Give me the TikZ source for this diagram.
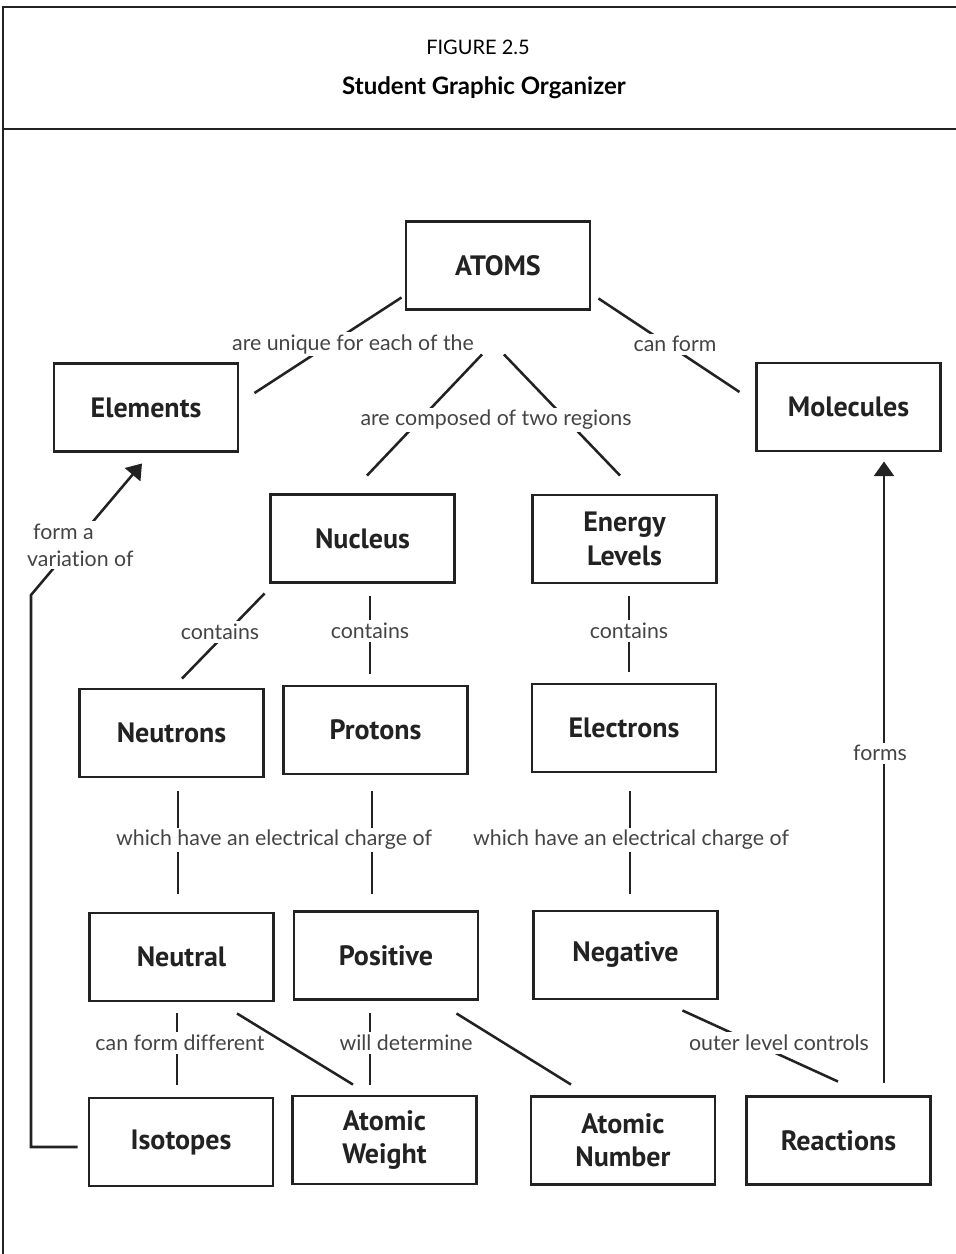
\documentclass[tikz,border=0pt]{standalone}
\usepackage{fontspec}
\setmainfont{Lato}[Ligatures=NoCommon]
\newfontfamily\handfont{PT Sans}
\usetikzlibrary{arrows.meta,calc}

\definecolor{inkgray}{RGB}{34,34,34}
\definecolor{labelgray}{RGB}{68,68,68}

\tikzset{every picture/.style={line width=0.75pt}}
\tikzset{
  concept/.style={draw=inkgray, line width=2.2pt, fill=white, minimum width=138pt, minimum height=66pt,
    align=center, inner sep=2pt, text=inkgray, font=\handfont\bfseries\fontsize{21}{25}\selectfont},
  link/.style={draw=inkgray, line width=1.9pt},
  linkarrow/.style={link, -{Triangle[length=11pt,width=15pt]}},
  linklabel/.style={fill=white, inner sep=2pt, text=labelgray, align=left, font=\fontsize{16}{20}\selectfont},
}

\begin{document}
\begin{tikzpicture}[x=0.75pt,y=0.75pt,yscale=-1,xscale=1]
\useasboundingbox (0,0) rectangle (956,1254);

% frame and title
\draw [inkgray, line width=2.2pt] (956,7) -- (3,7) -- (3,1254) ;
\draw [inkgray, line width=2.2pt] (3,129) -- (956,129) ;
\node (figno) at (478,47) {\fontsize{15}{18}\selectfont FIGURE 2.5};
\node (figtitle) at (484,88) {\fontsize{18}{21}\selectfont\bfseries Student Graphic Organizer};

% concepts
\node [concept] (atoms) at (498,265.5) {ATOMS};
\node [concept] (elements) at (146,407.5) {Elements};
\node [concept] (molecules) at (848.5,407) {Molecules};
\node [concept] (nucleus) at (362.5,538.5) {Nucleus};
\node [concept] (energy) at (624.5,539) {Energy\\Levels};
\node [concept] (neutrons) at (171.5,733) {Neutrons};
\node [concept] (protons) at (375.5,730) {Protons};
\node [concept] (electrons) at (624,728) {Electrons};
\node [concept] (neutral) at (181.5,957) {Neutral};
\node [concept] (positive) at (386,955.5) {Positive};
\node [concept] (negative) at (625.5,955) {Negative};
\node [concept] (isotopes) at (181,1142) {Isotopes};
\node [concept] (weight) at (384.5,1140) {Atomic\\Weight};
\node [concept] (number) at (623,1140.5) {Atomic\\Number};
\node [concept] (reactions) at (838.5,1140.5) {Reactions};

% links with a label on them
\draw [link] ($(atoms.south west)+(-3,-13.5)$) -- ($(elements.east)+(15,-14.5)$) ;
\draw [link] ($(atoms.south)+(-16,43.5)$) -- ($(nucleus.north)+(4.5,-17.5)$) ;
\draw [link] ($(atoms.south)+(6,43.5)$) -- ($(energy.north)+(-4.5,-18)$) ;
\draw [link] ($(atoms.south east)+(7,-12.5)$) -- ($(molecules.west)+(-15.5,-15)$) ;
\draw [link] ($(nucleus.south west)+(-4.5,9.5)$) -- ($(neutrons.north)+(10.5,-9)$) ;
\draw [link] ($(nucleus.south)+(7.5,12.5)$) -- ($(protons.north)+(-5.5,-11)$) ;
\draw [link] ($(energy.south)+(4.5,12)$) -- ($(electrons.north)+(5,-11)$) ;
\draw [link] ($(neutrons.south)+(6.5,13)$) -- ($(neutral.north)+(-3.5,-18)$) ;
\draw [link] ($(protons.south)+(-3.5,16)$) -- ($(positive.north)+(-14,-16.5)$) ;
\draw [link] ($(electrons.south)+(6,18)$) -- ($(negative.north)+(4.5,-16)$) ;
\draw [link] ($(neutral.south)+(-4.5,11)$) -- ($(isotopes.north)+(-4,-12)$) ;
\draw [link] ($(positive.south)+(-16,12.5)$) -- ($(weight.north)+(-14.5,-10)$) ;
\draw [link] ($(negative.south east)+(-36.5,10)$) -- ($(reactions.north)+(-0.5,-13.5)$) ;
\draw [linkarrow] ($(reactions.north)+(45.5,-12.5)$) -- ($(molecules.south)+(35.5,9)$) ;
\coordinate (bend) at (31,595);
\draw [linkarrow] ($(isotopes.west)+(-10,5)$) -| (bend) -- ($(elements.south)+(-4,10.5)$) ;

% labels
\node [linklabel] (lunique) at (353,344) {are unique for each of the};
\node [linklabel] (lcanform) at (675,344) {can form};
\node [linklabel] (lcomposed) at (496,420) {are composed of two regions};
\node [linklabel] (lcontainsa) at (220,632) {contains};
\node [linklabel] (lcontainsb) at (370,631) {contains};
\node [linklabel] (lcontainsc) at (629,631) {contains};
\node [linklabel] (lchargea) at (274,840) {which have an electrical charge of};
\node [linklabel] (lchargeb) at (631,840) {which have an electrical charge of};
\node [linklabel] (ldifferent) at (180,1043) {can form different};
\node [linklabel] (ldetermine) at (406,1043) {will determine};
\node [linklabel] (lcontrols) at (779,1043) {outer level controls};
\node [linklabel] (lforms) at (880,753) {forms};
\node [linklabel, anchor=west] (lvariation) at (24,545) {\hspace*{4.5pt}form a\\variation of};

% links without a label
\draw [link] ($(neutral.south)+(55.5,11)$) -- ($(weight.north)+(-31.5,-10)$) ;
\draw [link] ($(positive.south east)+(-23,12.5)$) -- ($(number.north)+(-52,-10.5)$) ;

\end{tikzpicture}
\end{document}
